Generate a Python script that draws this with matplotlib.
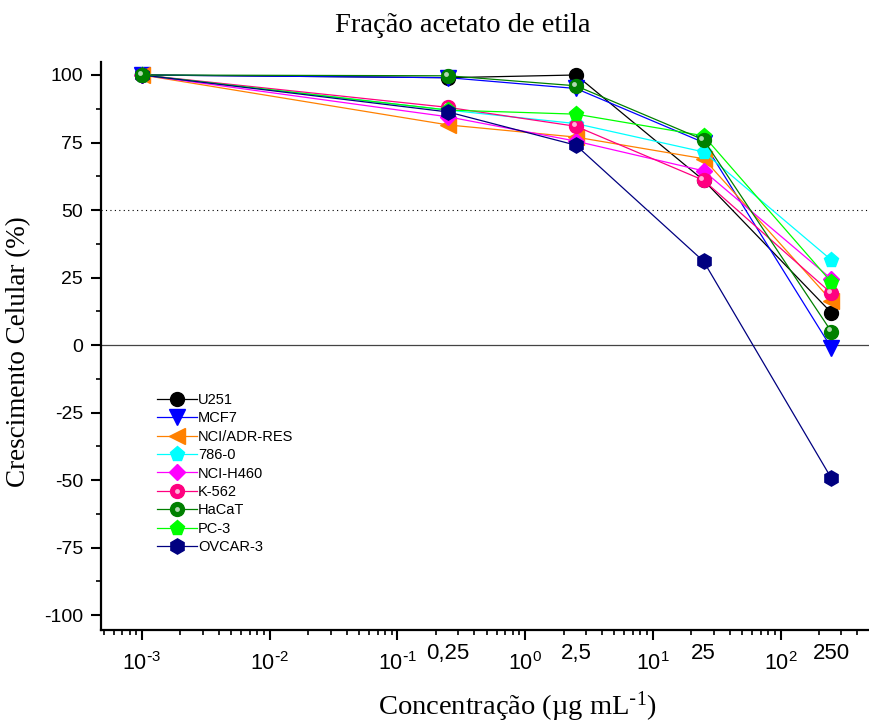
import numpy as np
import matplotlib
matplotlib.use('Agg')
import matplotlib.pyplot as plt
from matplotlib import transforms
from matplotlib.legend_handler import HandlerTuple
from matplotlib.ticker import LogLocator, NullFormatter, MultipleLocator

# Data
conc = [0.001, 0.25, 2.5, 25, 250]
conc_labels = ['0,25', '2,5', '25', '250']
conc_label_pos = [0.25, 2.5, 25, 250]

u251 = [100, 99, 100, 61, 12]
mcf7 = [100, 99, 95, 75, -1]
nci_adr = [100, 81.5, 77, 69, 16.5]
c786 = [100, 87, 82, 71.5, 31.5]
nci_h460 = [100, 84.5, 75.5, 64.5, 24.5]
k562 = [100, 88, 81, 61, 19.2]
hacat = [100, 99.7, 96, 76, 5]
pc3 = [100, 87, 85.5, 77.5, 23.3]
ovcar3 = [100, 86.3, 74, 31, -49.3]

series = [
    ('U251', u251, 'black', 'o', 10),
    ('MCF7', mcf7, '#0000FF', 'v', 11),
    ('NCI/ADR-RES', nci_adr, '#FF8000', '<', 11),
    ('786-0', c786, '#00FFFF', 'p', 11),
    ('NCI-H460', nci_h460, '#FF00FF', 'D', 8.5),
    ('K-562', k562, '#FF0080', 'o', 10),
    ('HaCaT', hacat, '#008000', 'o', 10),
    ('PC-3', pc3, '#00FF00', 'p', 11),
    ('OVCAR-3', ovcar3, '#000080', 'h', 11),
]
spheres = ['K-562', 'HaCaT']

plt.rcParams['font.family'] = ['Liberation Sans', 'DejaVu Sans']
plt.rcParams['mathtext.default'] = 'regular'
plt.rcParams['axes.unicode_minus'] = False

fig = plt.figure(figsize=(8.69, 7.22), dpi=100)
ax = fig.add_axes([0.1162, 0.1274, 0.8838, 0.7867])

ax.axhline(0, color='#444444', lw=0.9, zorder=1)
ax.axhline(50, color='black', lw=0.8, ls=(0, (1, 3)), zorder=1)

hl_trans = transforms.offset_copy(ax.transData, fig=fig, x=-1.6, y=1.6, units='points')
handles = []
for i, (name, vals, col, mk, ms) in enumerate(series):
    z = 3 + i
    if name == 'HaCaT':
        z = 20
    line, = ax.plot(conc, vals, color=col, lw=0.9, marker=mk, ms=ms,
                    markeredgecolor=col, label=name, zorder=z)
    if name in spheres:
        ax.plot(conc, vals, ls='none', marker='o', ms=3.5, color='white',
                alpha=0.7, markeredgewidth=0, transform=hl_trans, zorder=z + 0.5)
        hl, = ax.plot([], [], ls='none', marker='o', ms=3.5, color='white',
                      alpha=0.7, markeredgewidth=0)
        handles.append((line, hl))
    else:
        handles.append(line)

ax.set_xscale('log')
ax.set_xlim(4.77e-4, 493)
ax.set_ylim(-105.5, 104.8)

ax.xaxis.set_minor_locator(LogLocator(base=10, subs=np.arange(2, 10), numticks=20))
ax.xaxis.set_minor_formatter(NullFormatter())
ax.set_xticks([1e-3, 1e-2, 1e-1, 1, 10, 100])
ax.set_xticklabels([r'$10^{\text{-}3}$', r'$10^{\text{-}2}$', r'$10^{\text{-}1}$',
                    '$10^{0}$', '$10^{1}$', '$10^{2}$'])

ax.yaxis.set_major_locator(MultipleLocator(25))
ax.yaxis.set_minor_locator(MultipleLocator(12.5))

ax.tick_params(axis='both', which='major', direction='out', length=7, width=1.5, pad=6)
ax.tick_params(axis='both', which='minor', direction='out', length=3.6, width=1.2)
ax.tick_params(axis='y', which='major', labelsize=14)
ax.tick_params(axis='x', which='major', labelsize=15.5, pad=9)

for s in ['top', 'right']:
    ax.spines[s].set_visible(False)
for s in ['left', 'bottom']:
    ax.spines[s].set_linewidth(1.6)

xtrans = transforms.blended_transform_factory(ax.transData, ax.transAxes)
for xp, lab in zip(conc_label_pos, conc_labels):
    ax.text(xp, -0.041, lab, transform=xtrans, ha='center', va='center', fontsize=16)

fig.text(463 / 869, 1 - 25 / 722, 'Fração acetato de etila', family='Liberation Serif',
         fontsize=20.5, ha='center', va='center')
ax.set_xlabel(r'Concentração (µg mL$^{\text{-}1}$)', family='Liberation Serif', fontsize=20.5,
              labelpad=10, x=0.5417)
ax.set_ylabel('Crescimento Celular (%)', family='Liberation Serif', fontsize=19.5,
              labelpad=9, y=0.49)

leg = ax.legend(handles, [s[0] for s in series], loc='upper left',
                bbox_to_anchor=(157 / 869, 1 - 393 / 722), bbox_transform=fig.transFigure,
                frameon=False, fontsize=10.5, handlelength=2.75, handletextpad=0.05,
                labelspacing=0.3, borderpad=0, borderaxespad=0, markerscale=1.0,
                handler_map={tuple: HandlerTuple(ndivide=1)})

fig.savefig('out.png', dpi=100)
